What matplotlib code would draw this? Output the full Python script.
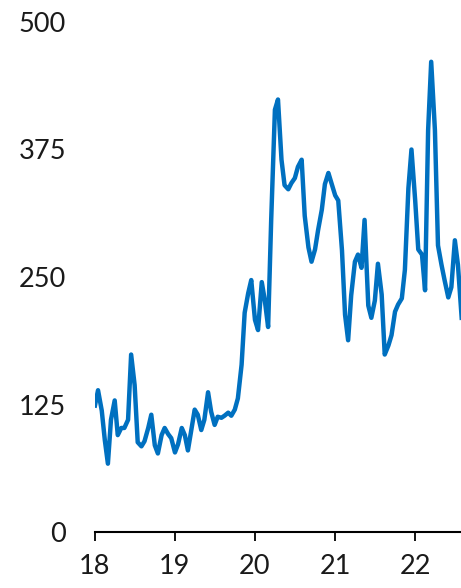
import matplotlib
matplotlib.use("Agg")
import matplotlib.pyplot as plt
import pandas as pd

# semi-monthly readings, Jan 2018 onwards
values = [
    124, 139, 119, 90, 67, 110, 129, 95, 102, 102, 110, 174,
    144, 88, 84, 89, 102, 115, 85, 77, 95, 102, 96, 92,
    78, 86, 102, 95, 80, 98, 120, 115, 100, 110, 137, 118,
    105, 113, 112, 114, 117, 114, 120, 131, 164, 215, 234, 247,
    208, 198, 245, 227, 201, 306, 414, 424, 365, 340, 336, 342,
    347, 358, 365, 310, 279, 265, 277, 296, 316, 341, 352, 342,
    330, 325, 276, 213, 188, 232, 265, 272, 259, 306, 222, 210,
    227, 263, 233, 174, 183, 193, 216, 223, 229, 257, 337, 375,
    325, 277, 272, 237, 394, 461, 394, 281, 262, 247, 230, 240,
    286, 262, 210,
]
dates = pd.date_range("2018-01-01", periods=len(values), freq="SMS")

y_ticks = [0, 125, 250, 375, 500]
x_years = [2018, 2019, 2020, 2021, 2022]
x_labels = ["18", "19", "20", "21", "22"]

plt.rcParams["font.family"] = ["Lato", "DejaVu Sans"]

fig = plt.figure(figsize=(4.61, 5.88), dpi=100)
ax = fig.add_axes([0.206, 0.0952, 0.794, 0.8674])

ax.plot(dates, values, color="#0070C0", lw=3.2, solid_joinstyle="round")

ax.set_ylim(0, 500)
ax.set_yticks(y_ticks)
ax.set_yticklabels([str(v) for v in y_ticks])
ax.set_xlim(pd.Timestamp("2018-01-01"), pd.Timestamp("2022-07-29"))
ax.set_xticks([pd.Timestamp(f"{y}-01-01") for y in x_years])
ax.set_xticklabels(x_labels)

for s in ["top", "right", "left"]:
    ax.spines[s].set_visible(False)
ax.spines["bottom"].set_linewidth(1.5)
ax.spines["bottom"].set_color("#000000")

ax.tick_params(axis="y", length=0, pad=21, labelsize=19.5, colors="#1a1a1a")
ax.tick_params(axis="x", length=6.5, width=1.3, pad=9, labelsize=19.5,
               labelcolor="#1a1a1a", color="#000000")

fig.savefig("out.png", dpi=100)
